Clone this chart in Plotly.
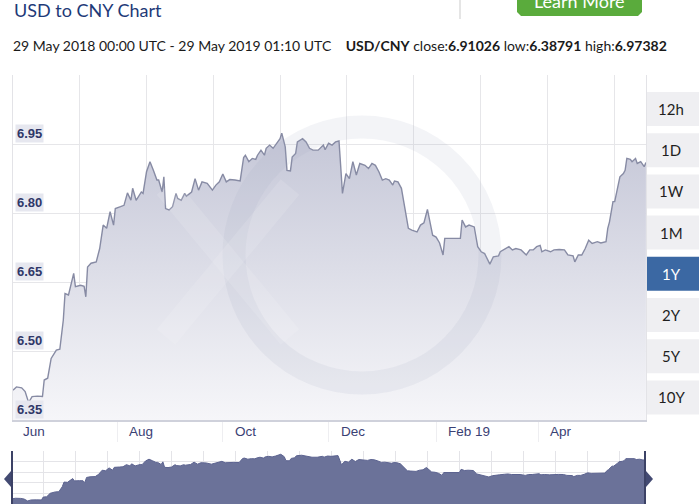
import plotly.graph_objects as go
import pandas as pd

# ---------------- data ----------------
START = "2018-05-29"
END = "2019-05-29 01:10"

# days since START
days = [
    0, 2, 5, 7, 9, 11, 14, 17, 18, 20,
    22, 24, 25, 27, 29, 30, 32, 35, 36, 39,
    41, 42, 43, 45, 48, 50, 52, 54, 56, 58,
    59, 62, 64, 66, 68, 69, 71, 74, 75, 77,
    79, 81, 83, 84, 86, 87, 88, 90, 92, 94,
    95, 97, 99, 100, 103, 105, 107, 109, 112, 115,
    117, 119, 121, 123, 125, 128, 131, 133, 134, 136,
    138, 140, 141, 143, 145, 146, 148, 150, 152, 154,
    155, 157, 158, 160, 161, 163, 164, 167, 169, 171,
    173, 176, 179, 180, 182, 184, 186, 188, 189, 190,
    192, 194, 196, 198, 200, 203, 205, 207, 209, 211,
    213, 215, 217, 219, 220, 222, 224, 226, 228, 230,
    233, 235, 237, 239, 240, 242, 244, 246, 248, 249,
    252, 255, 258, 259, 261, 263, 266, 268, 270, 272,
    274, 275, 277, 280, 281, 284, 286, 288, 290, 293,
    296, 298, 300, 302, 304, 305, 307, 310, 312, 315,
    318, 320, 323, 324, 326, 328, 330, 332, 334, 337,
    339, 342, 343, 344, 346, 347, 349, 350, 352, 353,
    354, 356, 357, 359, 360, 362, 364, 365,
]

usd_cny = [
    6.415, 6.422, 6.420, 6.412, 6.388, 6.401, 6.402, 6.401, 6.437, 6.441,
    6.484, 6.496, 6.502, 6.504, 6.567, 6.625, 6.622, 6.669, 6.640, 6.643,
    6.641, 6.618, 6.683, 6.691, 6.694, 6.723, 6.774, 6.767, 6.803, 6.774,
    6.810, 6.814, 6.817, 6.844, 6.828, 6.854, 6.828, 6.846, 6.843, 6.890,
    6.912, 6.893, 6.872, 6.872, 6.846, 6.879, 6.810, 6.807, 6.814, 6.843,
    6.832, 6.828, 6.843, 6.837, 6.846, 6.875, 6.850, 6.868, 6.865, 6.850,
    6.861, 6.868, 6.885, 6.868, 6.873, 6.872, 6.870, 6.921, 6.926, 6.912,
    6.919, 6.917, 6.926, 6.937, 6.926, 6.941, 6.948, 6.941, 6.952, 6.962,
    6.974, 6.944, 6.893, 6.892, 6.922, 6.930, 6.955, 6.962, 6.955, 6.941,
    6.937, 6.937, 6.948, 6.938, 6.952, 6.948, 6.955, 6.957, 6.901, 6.843,
    6.886, 6.875, 6.912, 6.883, 6.908, 6.904, 6.897, 6.908, 6.904, 6.890,
    6.872, 6.875, 6.872, 6.861, 6.870, 6.868, 6.854, 6.810, 6.767, 6.763,
    6.759, 6.774, 6.779, 6.808, 6.791, 6.752, 6.748, 6.735, 6.709, 6.745,
    6.745, 6.745, 6.745, 6.785, 6.770, 6.774, 6.770, 6.727, 6.716, 6.712,
    6.698, 6.689, 6.705, 6.707, 6.716, 6.723, 6.727, 6.720, 6.723, 6.720,
    6.709, 6.720, 6.720, 6.727, 6.730, 6.716, 6.720, 6.716, 6.720, 6.721,
    6.720, 6.709, 6.707, 6.694, 6.709, 6.709, 6.723, 6.741, 6.734, 6.738,
    6.735, 6.738, 6.767, 6.781, 6.825, 6.825, 6.857, 6.879, 6.886, 6.893,
    6.919, 6.917, 6.912, 6.919, 6.908, 6.912, 6.901, 6.910,
]

y_ticks = [6.35, 6.50, 6.65, 6.80, 6.95]
y_tick_labels = ["6.35", "6.50", "6.65", "6.80", "6.95"]
x_tick_dates = ["2018-06-01", "2018-08-01", "2018-10-01", "2018-12-01", "2019-02-01", "2019-04-01"]
x_tick_labels = ["Jun", "Aug", "Oct", "Dec", "Feb 19", "Apr"]
range_buttons = ["12h", "1D", "1W", "1M", "1Y", "2Y", "5Y", "10Y"]
selected_button = "1Y"

title_text = "USD to CNY Chart"
subtitle_text = ("29 May 2018 00:00 UTC - 29 May 2019 01:10 UTC&nbsp;&nbsp;&nbsp;&nbsp;"
                 "<b>USD/CNY</b> close:<b>6.91026</b> low:<b>6.38791</b> high:<b>6.97382</b>")

dates = pd.Timestamp(START) + pd.to_timedelta(days, unit="D")

# ---------------- layout helpers ----------------
W, H = 699, 504
def X(px):
    return px / W
def Y(py):
    return 1 - py / H
def path_px(pts):
    return "M " + " L ".join(f"{X(a):.5f},{Y(b):.5f}" for a, b in pts) + " Z"

NAVY = "#2f3768"
DAY_MS = 86400000

fig = go.Figure()

# main area
fig.add_trace(go.Scatter(
    x=dates, y=usd_cny, mode="lines",
    line=dict(color="#878ba4", width=1.4),
    fill="tozeroy",
    fillgradient=dict(type="vertical", start=6.35, stop=7.0,
                      colorscale=[[0, "#f6f6f9"], [1, "#c3c5d6"]]),
    hoverinfo="skip", showlegend=False,
    xaxis="x", yaxis="y",
))

# navigator
fig.add_trace(go.Scatter(
    x=dates, y=usd_cny, mode="lines",
    line=dict(color="#5c6390", width=1),
    fill="tozeroy", fillcolor="#6b7299",
    hoverinfo="skip", showlegend=False,
    xaxis="x2", yaxis="y2",
))

x_range = [pd.Timestamp(START), pd.Timestamp(END)]

fig.update_layout(
    width=W, height=H,
    margin=dict(l=0, r=0, t=0, b=0),
    paper_bgcolor="white", plot_bgcolor="white",
    showlegend=False,
    xaxis=dict(
        domain=[X(13), X(646)], range=x_range, type="date",
        tickmode="linear", tick0=START, dtick=38.52 * DAY_MS,
        showgrid=True, gridcolor="#e6e6e9", gridwidth=1,
        showticklabels=False, ticks="",
        showline=True, linecolor="#cfd1db", linewidth=1.5,
        zeroline=False, fixedrange=True,
        minor=dict(tickmode="array",
                   tickvals=[pd.Timestamp(d) - pd.Timedelta(days=4) for d in x_tick_dates],
                   ticks="outside", ticklen=20, tickcolor="#eeeef1", tickwidth=1,
                   showgrid=False),
    ),
    yaxis=dict(
        domain=[Y(420), Y(75)], range=[6.35, 7.1005],
        tickmode="linear", tick0=6.35, dtick=0.15,
        showgrid=True, gridcolor="#e6e6e9", gridwidth=1,
        showticklabels=False, ticks="",
        showline=True, linecolor="#e3e3e7", linewidth=1, mirror=True,
        zeroline=False, fixedrange=True,
    ),
    xaxis2=dict(
        domain=[X(12), X(645)], range=x_range, type="date", anchor="y2",
        tickmode="linear", tick0=START, dtick=18.45 * DAY_MS,
        showgrid=True, gridcolor="#e4e4e8", showticklabels=False, ticks="",
        showline=False, zeroline=False, fixedrange=True,
    ),
    yaxis2=dict(
        domain=[0, Y(451)], range=[6.35, 7.015], anchor="x2",
        tickmode="linear", tick0=6.35, dtick=0.133,
        showgrid=True, gridcolor="#e4e4e8", showticklabels=False, ticks="",
        showline=False, zeroline=False, fixedrange=True,
    ),
)

shapes = []
annotations = []

# faint watermark ring (xe logo) and x strokes
shapes.append(dict(type="circle", xref="paper", yref="paper",
                   xsizemode="pixel", ysizemode="pixel",
                   xanchor=X(362), yanchor=Y(255),
                   x0=-128, x1=128, y0=-128, y1=128,
                   line=dict(color="rgba(165,170,192,0.13)", width=23),
                   fillcolor="rgba(0,0,0,0)", layer="above"))
for (a0, b0, a1, b1) in [(-62, 75, 62, -75), (-62, -75, 62, 75)]:
    shapes.append(dict(type="line", xref="paper", yref="paper",
                       xsizemode="pixel", ysizemode="pixel",
                       xanchor=X(228), yanchor=Y(262),
                       x0=a0, y0=b0, x1=a1, y1=b1,
                       line=dict(color="rgba(255,255,255,0.12)", width=24),
                       layer="above"))

# y labels with background boxes
for v, t in zip(y_ticks, y_tick_labels):
    annotations.append(dict(
        xref="paper", yref="y", x=X(15), y=v, xanchor="left", yanchor="bottom",
        text="<b>" + t + "</b>", showarrow=False, yshift=1,
        font=dict(family="Liberation Sans, Arial", size=13, color=NAVY),
        bgcolor="#e6e7ef", borderpad=1,
    ))

# x labels, left-aligned just after month start
for d, t in zip(x_tick_dates, x_tick_labels):
    annotations.append(dict(
        xref="x", yref="paper", x=d, y=Y(431), xanchor="left", yanchor="middle",
        text=t, showarrow=False, xshift=3,
        font=dict(family="Liberation Sans, Arial", size=13.5, color="#3a4174"),
    ))

# range buttons on the right
for i, b in enumerate(range_buttons):
    top = 92 + i * 41.2
    sel = (b == selected_button)
    shapes.append(dict(type="rect", xref="paper", yref="paper",
                       x0=X(647), x1=X(702), y0=Y(top + 34), y1=Y(top),
                       fillcolor="#3b68a3" if sel else "#efeff2", line=dict(width=0),
                       layer="above"))
    annotations.append(dict(
        xref="paper", yref="paper", x=X(671), y=Y(top + 17), xanchor="center", yanchor="middle",
        text=b, showarrow=False,
        font=dict(family="Lato, Noto Sans", size=15, color="white" if sel else "#1f1f1f"),
    ))

# header
annotations.append(dict(
    xref="paper", yref="paper", x=X(12), y=Y(10), xanchor="left", yanchor="middle",
    text=title_text, showarrow=False,
    font=dict(family="Lato, Noto Sans", size=18, color="#1e3a78"),
))
annotations.append(dict(
    xref="paper", yref="paper", x=X(11), y=Y(45), xanchor="left", yanchor="middle",
    text=subtitle_text, showarrow=False,
    font=dict(family="Lato, Noto Sans", size=14, color="#1a1a1a"),
))
# separator and "Learn More" button
shapes.append(dict(type="line", xref="paper", yref="paper",
                   x0=X(460), x1=X(460), y0=Y(19), y1=Y(0),
                   line=dict(color="#dcdcdc", width=1.5)))
shapes.append(dict(type="path", xref="paper", yref="paper",
                   path=path_px([(517, -5), (642, -5), (642, 12), (638, 16), (521, 16), (517, 12)]),
                   fillcolor="#5aab3c", line=dict(width=0)))
annotations.append(dict(
    xref="paper", yref="paper", x=X(579), y=Y(1), xanchor="center", yanchor="middle",
    text="Learn More", showarrow=False,
    font=dict(family="Lato, Noto Sans", size=18, color="white"),
))

# navigator borders and handles
shapes.append(dict(type="line", xref="paper", yref="paper",
                   x0=X(12), x1=X(12), y0=0, y1=Y(451),
                   line=dict(color="#3c4266", width=2)))
shapes.append(dict(type="line", xref="paper", yref="paper",
                   x0=X(645), x1=X(645), y0=0, y1=Y(451),
                   line=dict(color="#3c4266", width=2)))
shapes.append(dict(type="path", xref="paper", yref="paper",
                   path=path_px([(11, 471), (4, 479), (11, 487)]),
                   fillcolor="#434a72", line=dict(width=0)))
shapes.append(dict(type="path", xref="paper", yref="paper",
                   path=path_px([(646, 471), (653, 479), (646, 487)]),
                   fillcolor="#434a72", line=dict(width=0)))

fig.update_layout(shapes=shapes, annotations=annotations)

fig.write_html("out.html",
               config={"displayModeBar": False, "staticPlot": True},
               post_script="document.body.style.margin='0';document.body.style.overflow='hidden';")
